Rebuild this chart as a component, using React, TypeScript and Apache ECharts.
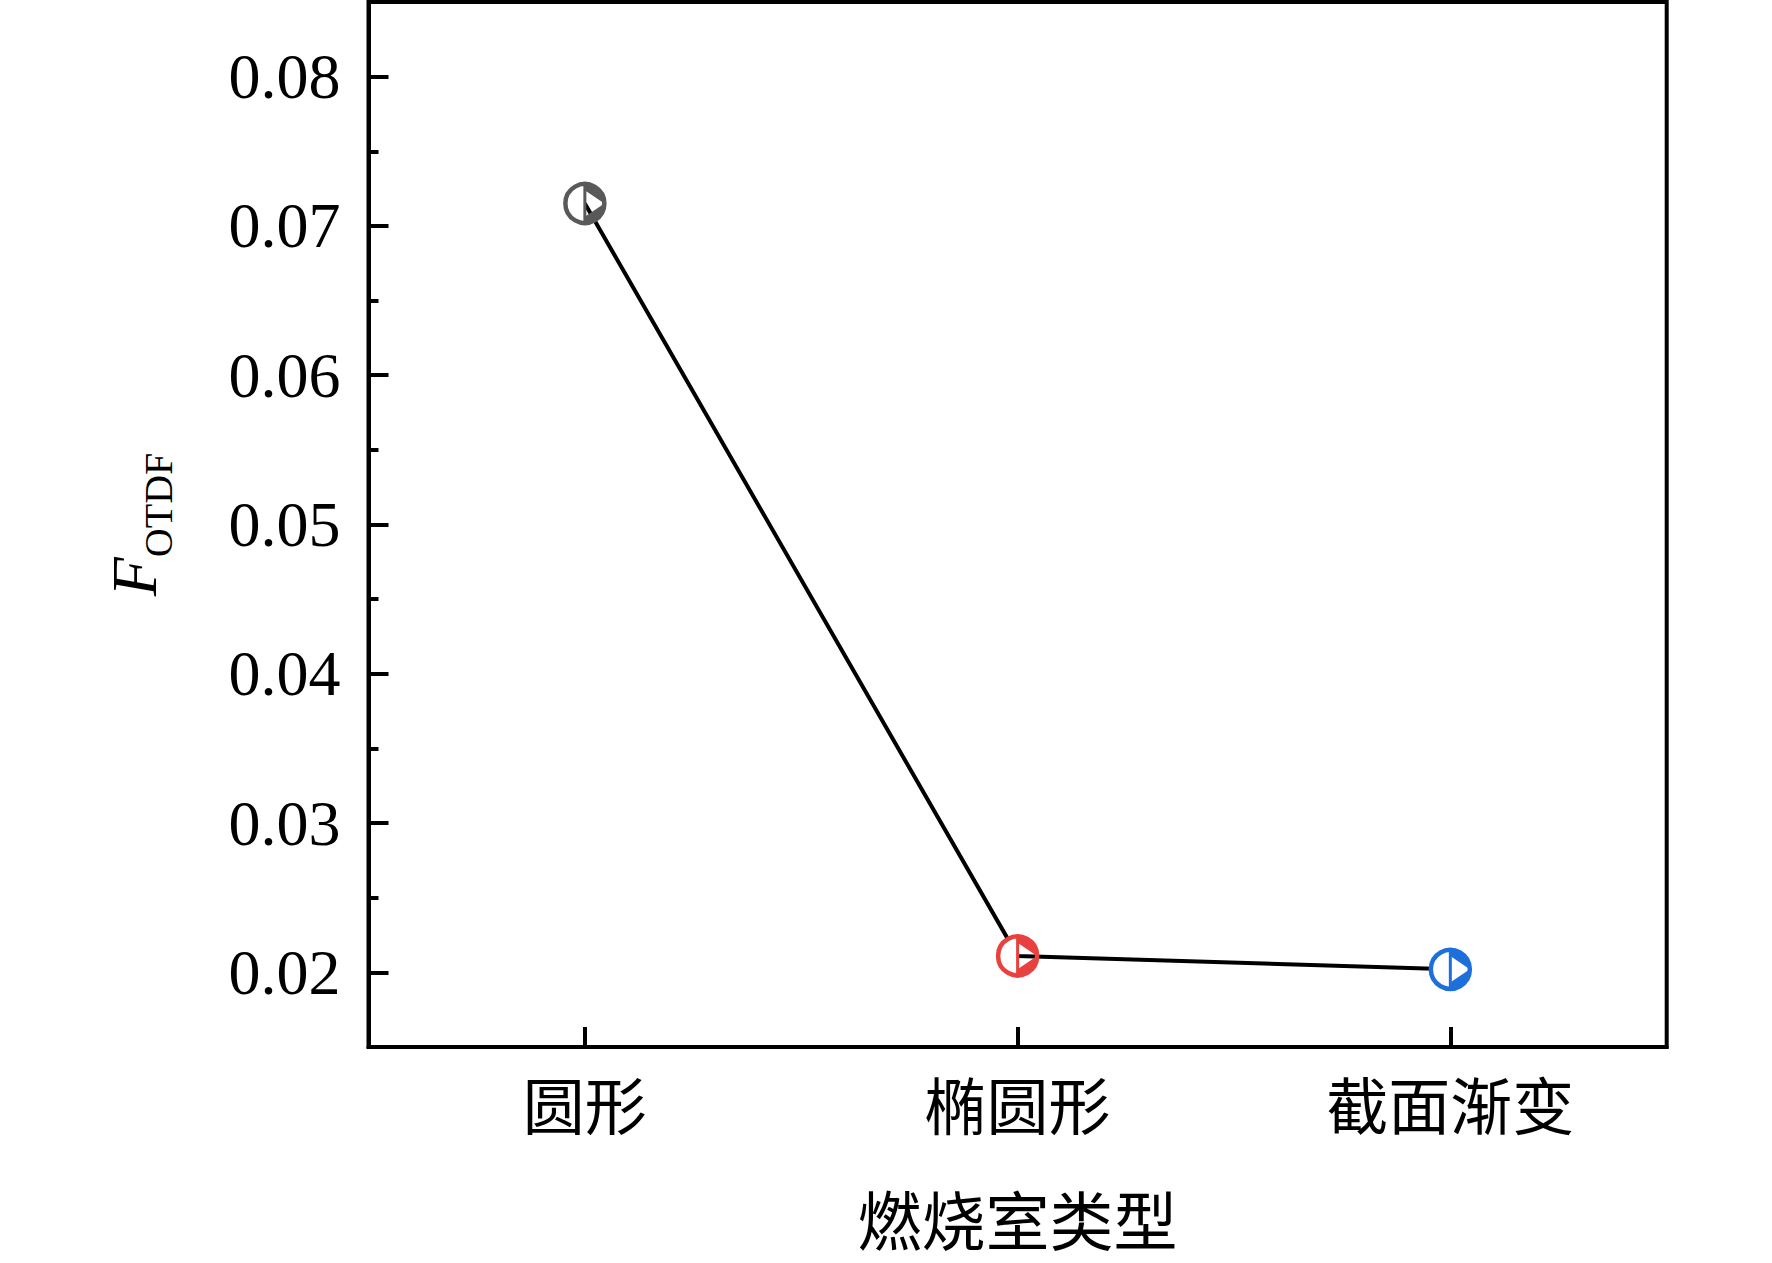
import React, { useEffect, useRef } from "react";
import * as echarts from "echarts";

const categories = ["圆形", "椭圆形", "截面渐变"];
const fotdfValues = [0.0715, 0.0211, 0.0202];
const markerColors = ["#595959", "#E8413F", "#1D6FDC"];
const yMin = 0.015;
const yMax = 0.085;
const xAxisName = "燃烧室类型";

const CJK = "'Noto Sans CJK SC', sans-serif";
const SERIF = "'Liberation Serif', 'Times New Roman', serif";

function arcPoints(cx: number, cy: number, r: number, a0: number, a1: number, n: number) {
  const pts: number[][] = [];
  for (let i = 0; i <= n; i++) {
    const a = a0 + ((a1 - a0) * i) / n;
    pts.push([cx + r * Math.cos(a), cy + r * Math.sin(a)]);
  }
  return pts;
}

export default function App() {
  const ref = useRef<HTMLDivElement>(null);
  useEffect(() => {
    if (!ref.current) return;
    const chart = echarts.init(ref.current, undefined, { renderer: "svg" });
    const markerData = fotdfValues.map((v, i) => [i, v]);
    chart.setOption({
      animation: false,
      backgroundColor: "#ffffff",
      grid: {
        left: 368.5,
        right: 105.3,
        top: 2,
        bottom: 216,
        show: true,
        borderColor: "#000",
        borderWidth: 4,
        backgroundColor: "transparent",
      },
      xAxis: {
        type: "category",
        data: categories,
        boundaryGap: true,
        name: xAxisName,
        nameLocation: "middle",
        nameGap: 138,
        nameTextStyle: { fontFamily: CJK, fontSize: 64, lineHeight: 64, color: "#000" },
        axisLine: { show: true, lineStyle: { color: "#000", width: 4 } },
        axisTick: { show: true, inside: true, alignWithLabel: true, length: 20, lineStyle: { color: "#000", width: 4 } },
        axisLabel: { fontFamily: CJK, fontSize: 62, lineHeight: 62, color: "#000", margin: 25 },
        splitLine: { show: false },
      },
      yAxis: {
        type: "value",
        min: yMin,
        max: yMax,
        splitNumber: 7,
        name: "{f|F}{s|OTDF}",
        nameLocation: "middle",
        nameRotate: 90,
        nameGap: 190,
        nameTextStyle: {
          rich: {
            f: { fontFamily: SERIF, fontStyle: "italic", fontSize: 64, color: "#000", verticalAlign: "bottom", padding: [0, 0, 12, 0] },
            s: { fontFamily: SERIF, fontSize: 40, color: "#000", verticalAlign: "bottom" },
          },
        },
        axisLine: { show: true, lineStyle: { color: "#000", width: 4 } },
        axisTick: { show: true, inside: true, length: 20, lineStyle: { color: "#000", width: 4 } },
        minorTick: { show: true, splitNumber: 2, length: 10, lineStyle: { color: "#000", width: 4 } },
        axisLabel: {
          fontFamily: SERIF,
          fontSize: 64,
          color: "#000",
          margin: 28,
          showMinLabel: false,
          showMaxLabel: false,
          formatter: (v: number) => v.toFixed(2),
        },
        splitLine: { show: false },
        minorSplitLine: { show: false },
      },
      series: [
        {
          type: "line",
          data: fotdfValues,
          symbol: "none",
          lineStyle: { color: "#000", width: 4 },
          z: 2,
        },
        {
          type: "custom",
          data: markerData,
          z: 3,
          renderItem: (params: any, api: any) => {
            const idx = api.value(0);
            const p = api.coord([idx, api.value(1)]);
            const cx = p[0];
            const cy = p[1];
            const color = markerColors[params.dataIndex];
            const r = 19.5;
            const h = 12.5;
            const leftHalf = arcPoints(cx, cy, r, Math.PI / 2, (3 * Math.PI) / 2, 30);
            const topPiece = [
              ...arcPoints(cx, cy, r, -Math.PI / 2, 0, 20),
              [cx + 1, cy - h],
            ];
            const botPiece = [
              ...arcPoints(cx, cy, r, 0, Math.PI / 2, 20),
              [cx + 1, cy + h],
            ];
            return {
              type: "group",
              children: [
                { type: "polygon", shape: { points: leftHalf }, style: { fill: "#fff", stroke: "none" } },
                { type: "polygon", shape: { points: topPiece }, style: { fill: color, stroke: "none" } },
                { type: "polygon", shape: { points: botPiece }, style: { fill: color, stroke: "none" } },
                { type: "circle", shape: { cx, cy, r }, style: { fill: "none", stroke: color, lineWidth: 4.5 } },
                { type: "line", shape: { x1: cx, y1: cy - r, x2: cx, y2: cy + r }, style: { stroke: color, lineWidth: 3 } },
              ],
            };
          },
        },
      ],
    });
    return () => chart.dispose();
  }, []);
  return (
    <div
      ref={ref}
      style={{ position: "absolute", left: 0, top: 0, width: 1772, height: 1263, background: "#fff" }}
    />
  );
}
